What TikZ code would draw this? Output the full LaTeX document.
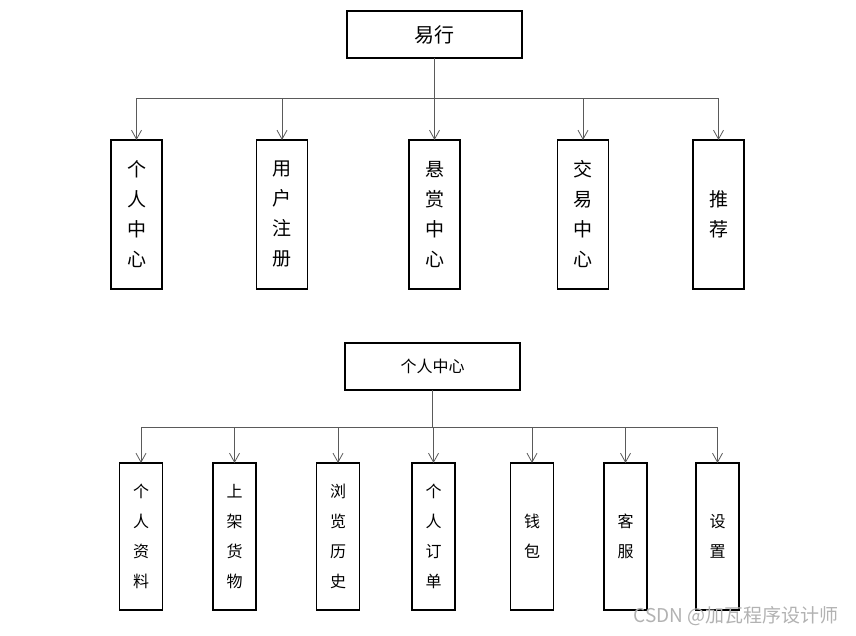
\documentclass[tikz,border=0pt]{standalone}
\usepackage{fontspec}
\setmainfont{Noto Sans CJK SC}
\usepackage{xcolor}
\usetikzlibrary{arrows.meta, positioning}

\definecolor{linegray}{HTML}{5A5A5A}

\begin{document}
\begin{tikzpicture}[
  x=1pt, y=-1pt,
  rootbox/.style={
    draw,
    line width=1.7pt,
    minimum width=175pt,
    minimum height=47pt,
    inner sep=0pt,
    outer sep=0pt,
    text centered
  },
  bigbox/.style={
    draw,
    line width=1.7pt,
    minimum width=51pt,
    minimum height=149pt,
    inner sep=0pt,
    outer sep=0pt,
    align=center,
    font=\fontsize{19}{30}\selectfont
  },
  smallbox/.style={
    draw,
    line width=1.7pt,
    minimum width=43pt,
    minimum height=147pt,
    inner sep=0pt,
    outer sep=0pt,
    align=center,
    font=\fontsize{16}{30}\selectfont
  },
  arr/.style={
    -{Straight Barb[length=9pt, width=10pt]},
    linegray,
    line width=0.8pt
  }
]
\useasboundingbox (0,0) rectangle (856,636);

% Top level
\node [rootbox, font=\fontsize{20}{24}\selectfont] (yixing) at (434.5,34.5) {易行};

\node [bigbox] (geren)  at (136.5,214.5) {个\\人\\中\\心};
\node [bigbox] (zhuce)  at (282,214.5)   {用\\户\\注\\册};
\node [bigbox] (xuans)  at (434.5,214.5) {悬\\赏\\中\\心};
\node [bigbox] (jiaoyi) at (583,214.5)   {交\\易\\中\\心};
\node [bigbox] (tuij)   at (718.5,214.5) {推\\荐};

\draw [arr] (yixing.south) -- ++(0,40) -| (geren.north);
\draw [arr] (yixing.south) -- ++(0,40) -| (zhuce.north);
\draw [arr] (yixing.south) -- (xuans.north);
\draw [arr] (yixing.south) -- ++(0,40) -| (jiaoyi.north);
\draw [arr] (yixing.south) -- ++(0,40) -| (tuij.north);

% Personal center
\node [rootbox, font=\fontsize{16}{20}\selectfont] (center) at (432.5,366.5) {个人中心};

\node [smallbox] (ziliao) at (141,536.5)   {个\\人\\资\\料};
\node [smallbox] (huowu)  at (234.5,536.5) {上\\架\\货\\物};
\node [smallbox] (lishi)  at (338,536.5)   {浏\\览\\历\\史};
\node [smallbox] (dingd)  at (433.5,536.5) {个\\人\\订\\单};
\node [smallbox] (qianb)  at (532,536.5)   {钱\\包};
\node [smallbox] (kefu)   at (625.5,536.5) {客\\服};
\node [smallbox] (shezhi) at (717.5,536.5) {设\\置};

\foreach \child in {ziliao, huowu, lishi, dingd, qianb, kefu, shezhi}
  \draw [arr] (center.south) -- ++(0,37) -| (\child.north);

% Watermark
\node [text=gray!60, font=\fontsize{19}{22}\selectfont, anchor=east] (mark) at (842,616) {CSDN @加瓦程序设计师};

\end{tikzpicture}
\end{document}
